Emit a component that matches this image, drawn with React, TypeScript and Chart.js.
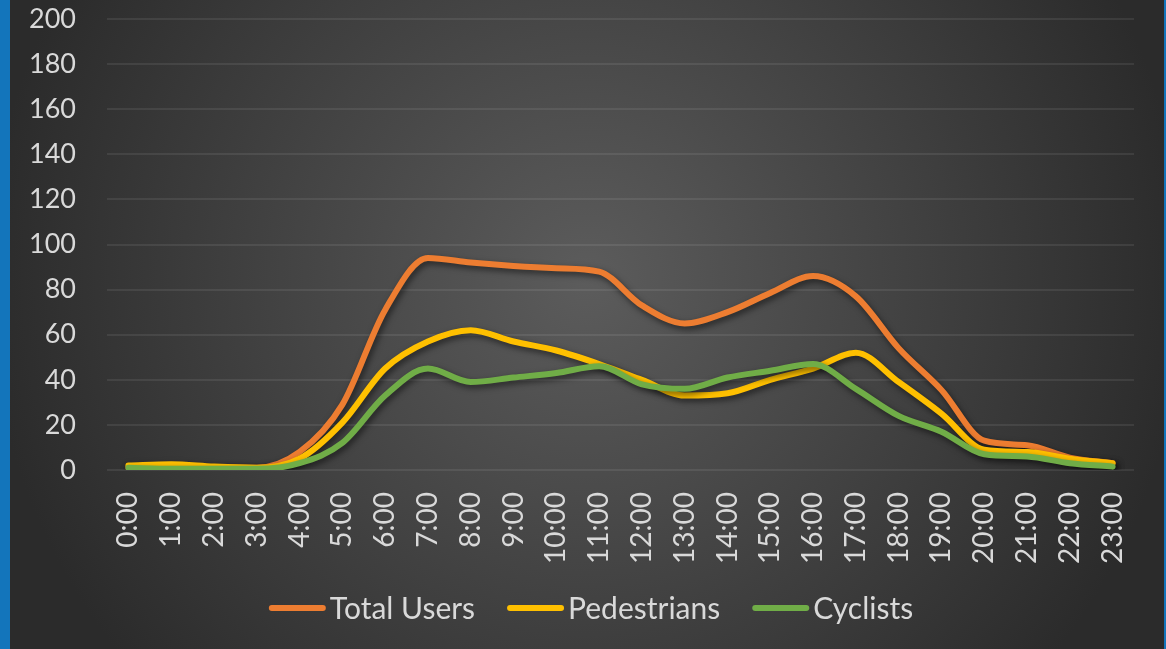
import React, { useEffect, useRef } from "react";
import { Chart, registerables } from "chart.js";

Chart.register(...registerables);

const hours: string[] = [
  "0:00", "1:00", "2:00", "3:00", "4:00", "5:00", "6:00", "7:00", "8:00", "9:00", "10:00", "11:00",
  "12:00", "13:00", "14:00", "15:00", "16:00", "17:00", "18:00", "19:00", "20:00", "21:00", "22:00", "23:00",
];

const totalUsers: number[] = [1, 1, 1, 1, 8, 29, 71, 94, 92, 90.5, 89.5, 88, 73, 65, 70, 78.5, 86, 77, 54, 35.5, 13, 11, 5.5, 3];
const pedestrians: number[] = [2, 2.5, 1.5, 1, 5, 21, 45, 57, 62, 57, 53, 47, 40, 33, 34, 40, 45, 52, 39, 25, 9, 8, 5, 3];
const cyclists: number[] = [1, 0.5, 0.5, 0.5, 3, 12, 33, 45, 39, 41, 43, 46, 38, 36, 41, 44, 47, 36, 24, 17, 7, 6, 3, 1.5];

const seriesNames: string[] = ["Total Users", "Pedestrians", "Cyclists"];
const seriesColors: string[] = ["#ED7D31", "#FFC000", "#70AD47"];

const FONT = "Lato, 'Open Sans', sans-serif";
const TEXT = "#d9d9d9";
const W = 1154;
const H = 649;

const bgPlugin = {
  id: "bgGradient",
  beforeDraw(chart: any) {
    const { ctx, width, height } = chart;
    ctx.save();
    const cx = width / 2;
    const cy = height * 0.43;
    const g = ctx.createRadialGradient(cx, cy, 0, cx, cy, 600);
    g.addColorStop(0, "#5c5c5c");
    g.addColorStop(1, "#2b2b2b");
    ctx.fillStyle = g;
    ctx.fillRect(0, 0, width, height);
    ctx.restore();
  },
};

const shadowPlugin = {
  id: "lineShadow",
  beforeDatasetDraw(chart: any) {
    const ctx = chart.ctx;
    ctx.save();
    ctx.shadowColor = "rgba(0,0,0,0.55)";
    ctx.shadowBlur = 6;
    ctx.shadowOffsetX = 2;
    ctx.shadowOffsetY = 3;
  },
  afterDatasetDraw(chart: any) {
    chart.ctx.restore();
  },
};

const legendPlugin = {
  id: "customLegend",
  afterDraw(chart: any) {
    const { ctx } = chart;
    const datasets = chart.data.datasets;
    const swatch = 57;
    const gap = 4;
    const itemGap = 32;
    const y = 608;
    ctx.save();
    ctx.font = `30px ${FONT}`;
    const widths = datasets.map((d: any) => ctx.measureText(d.label).width);
    const total = widths.reduce((s: number, w: number) => s + swatch + gap + w, 0) + itemGap * (datasets.length - 1);
    let x = 581 - total / 2;
    datasets.forEach((d: any, i: number) => {
      ctx.strokeStyle = d.borderColor;
      ctx.lineWidth = 6;
      ctx.lineCap = "round";
      ctx.beginPath();
      ctx.moveTo(x + 3, y);
      ctx.lineTo(x + swatch - 3, y);
      ctx.stroke();
      ctx.fillStyle = TEXT;
      ctx.textBaseline = "middle";
      ctx.textAlign = "left";
      ctx.fillText(d.label, x + swatch + gap, y + 1);
      x += swatch + gap + widths[i] + itemGap;
    });
    ctx.restore();
  },
};

export default function App() {
  const canvasRef = useRef<HTMLCanvasElement | null>(null);

  useEffect(() => {
    document.body.style.margin = "0";
    const canvas = canvasRef.current;
    if (!canvas) return;
    const values = [totalUsers, pedestrians, cyclists];
    const chart = new Chart(canvas, {
      type: "line",
      data: {
        labels: hours,
        datasets: seriesNames.map((name, i) => ({
          label: name,
          data: values[i],
          borderColor: seriesColors[i],
          backgroundColor: seriesColors[i],
          borderWidth: 6,
          borderCapStyle: "round",
          borderJoinStyle: "round",
          pointRadius: 0,
          pointHoverRadius: 0,
          tension: 0.4,
          cubicInterpolationMode: "monotone",
          fill: false,
          order: 3 - i,
        })),
      },
      options: {
        animation: false,
        responsive: false,
        devicePixelRatio: 1,
        layout: { padding: { top: 19, right: 30, bottom: 79, left: 0 } },
        plugins: {
          tooltip: { enabled: false },
          legend: { display: false },
        },
        scales: {
          x: {
            offset: true,
            grid: { display: false },
            border: { display: false },
            ticks: {
              color: TEXT,
              font: { family: FONT, size: 28 },
              maxRotation: 90,
              minRotation: 90,
              padding: 14,
              autoSkip: false,
            },
            afterFit: (scale: any) => {
              scale.height = 100;
              scale.paddingLeft = 0;
              scale.paddingRight = 0;
            },
          },
          y: {
            min: 0,
            max: 200,
            ticks: {
              stepSize: 20,
              color: TEXT,
              font: { family: FONT, size: 27 },
              padding: 31,
            },
            grid: {
              color: "rgba(255,255,255,0.08)",
              lineWidth: 2,
              drawTicks: false,
            },
            border: { display: false },
            afterFit: (scale: any) => {
              scale.width = 97;
              scale.paddingTop = 0;
              scale.paddingBottom = 0;
            },
          },
        },
      },
      plugins: [bgPlugin, shadowPlugin, legendPlugin],
    } as any);
    return () => chart.destroy();
  }, []);

  return (
    <div
      style={{
        position: "absolute",
        left: 0,
        top: 0,
        width: 1166,
        height: 649,
        boxSizing: "border-box",
        borderLeft: "10px solid #1375bb",
        borderRight: "2px solid #1375bb",
        background: "#2b2b2b",
      }}
    >
      <canvas ref={canvasRef} width={W} height={H} style={{ display: "block", width: W, height: H }} />
    </div>
  );
}
